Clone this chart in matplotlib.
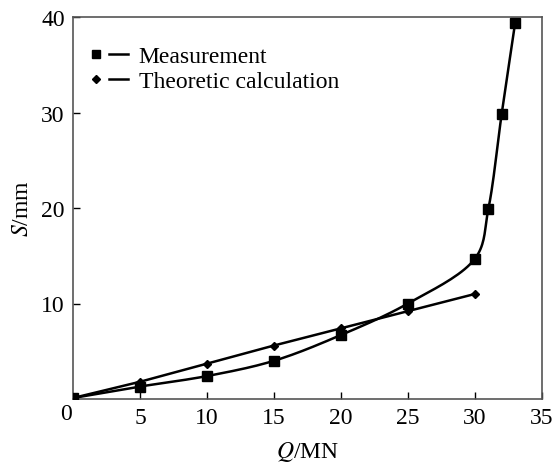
import numpy as np
import matplotlib
matplotlib.use("Agg")
import matplotlib.pyplot as plt
from matplotlib.lines import Line2D
from matplotlib.legend_handler import HandlerTuple

# data
q_meas = [0, 5, 10, 15, 20, 25, 30, 31, 32, 33]
s_meas = [0.1, 1.3, 2.4, 4.0, 6.7, 10.0, 14.7, 19.9, 29.9, 39.4]
q_theo = [0, 5, 10, 15, 20, 25, 30]
s_theo = [0.1, 1.8, 3.7, 5.6, 7.4, 9.2, 11.0]

x_ticks = [5, 10, 15, 20, 25, 30, 35]
y_ticks = [10, 20, 30, 40]

plt.rcParams['font.family'] = ['Liberation Serif', 'DejaVu Serif']
plt.rcParams['mathtext.fontset'] = 'stix'


def smooth(xs, ys, sx, sy, n=20):
    # centripetal catmull-rom through the points, only for drawing the line
    p = np.column_stack([np.asarray(xs, float) / sx, np.asarray(ys, float) / sy])
    p = np.vstack([2 * p[0] - p[1], p, 2 * p[-1] - p[-2]])
    out = []
    for i in range(1, len(p) - 2):
        p0, p1, p2, p3 = p[i - 1], p[i], p[i + 1], p[i + 2]
        t0 = 0
        t1 = t0 + np.linalg.norm(p1 - p0) ** 0.5
        t2 = t1 + np.linalg.norm(p2 - p1) ** 0.5
        t3 = t2 + np.linalg.norm(p3 - p2) ** 0.5
        t = np.linspace(t1, t2, n)[:, None]
        a1 = (t1 - t) / (t1 - t0) * p0 + (t - t0) / (t1 - t0) * p1
        a2 = (t2 - t) / (t2 - t1) * p1 + (t - t1) / (t2 - t1) * p2
        a3 = (t3 - t) / (t3 - t2) * p2 + (t - t2) / (t3 - t2) * p3
        b1 = (t2 - t) / (t2 - t0) * a1 + (t - t0) / (t2 - t0) * a2
        b2 = (t3 - t) / (t3 - t1) * a2 + (t - t1) / (t3 - t1) * a3
        c = (t2 - t) / (t2 - t1) * b1 + (t - t1) / (t2 - t1) * b2
        out.append(c if i == 1 else c[1:])
    c = np.vstack(out)
    return c[:, 0] * sx, c[:, 1] * sy


fig = plt.figure(figsize=(5.53, 4.64), dpi=100)
ax = fig.add_axes([0.132, 0.138, 0.848, 0.823])

sx, sy = smooth(q_meas, s_meas, 35, 40)
ax.plot(sx, sy, color='black', lw=1.8, zorder=2)
ax.plot(q_meas, s_meas, ls='none', marker='s', ms=6.5, color='black', zorder=3)
ax.plot(q_theo, s_theo, color='black', lw=1.8, marker='D', ms=4.5, zorder=3)

ax.set_xlim(0, 35)
ax.set_ylim(0, 40)
ax.set_xticks(x_ticks)
ax.set_yticks(y_ticks)
ax.tick_params(direction='in', length=5, width=1, labelsize=17, pad=6)
for sp in ax.spines.values():
    sp.set_color('#555555')
    sp.set_linewidth(1.2)
ax.text(-0.05, -0.4, '0', fontsize=17, ha='right', va='top')

ax.set_xlabel(r'$\mathit{Q}$/MN', fontsize=17, labelpad=8)
ax.set_ylabel(r'$\mathit{S}$/mm', fontsize=17, labelpad=6)

h1 = (Line2D([], [], ls='none', marker='s', ms=6, color='black'),
      Line2D([], [], color='black', lw=1.8))
h2 = (Line2D([], [], ls='none', marker='D', ms=4.5, color='black'),
      Line2D([], [], color='black', lw=1.8))
ax.legend([h1, h2], ['Measurement', 'Theoretic calculation'],
          handler_map={tuple: HandlerTuple(ndivide=None, pad=0.15)},
          loc='upper left', frameon=False, fontsize=17,
          handlelength=1.78, handletextpad=0.45, labelspacing=0.14,
          borderaxespad=0.0, bbox_to_anchor=(0.008, 0.95))

fig.savefig('out.png', dpi=100)
